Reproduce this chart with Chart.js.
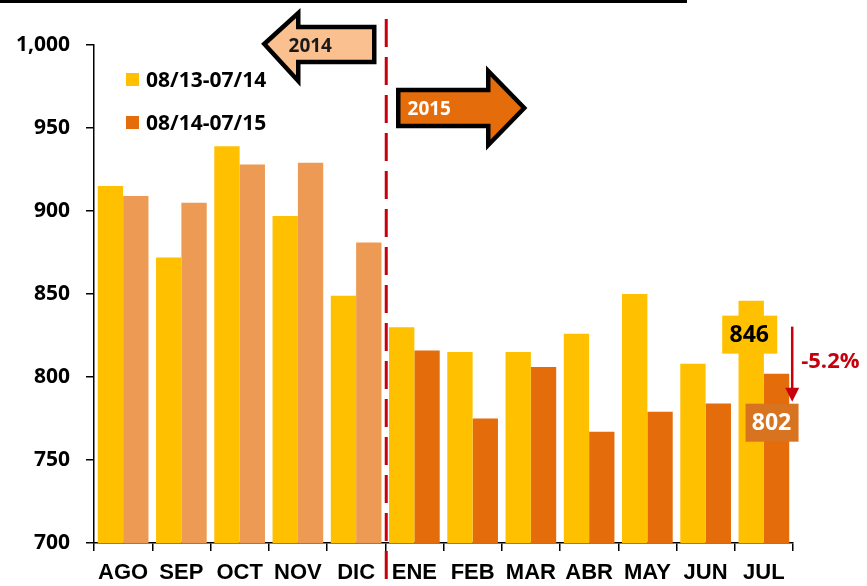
<!DOCTYPE html>
<html>
<head>
<meta charset="utf-8">
<script src="https://cdn.jsdelivr.net/npm/chart.js@4.4.1/dist/chart.umd.min.js"></script>
<style>
  html, body { margin: 0; padding: 0; background: #fff; }
  #wrap { width: 867px; height: 586px; position: relative; }
</style>
</head>
<body>
<div id="wrap"><canvas id="chart" width="867" height="586"></canvas></div>
<script>
// datos
const meses = ['AGO', 'SEP', 'OCT', 'NOV', 'DIC', 'ENE', 'FEB', 'MAR', 'ABR', 'MAY', 'JUN', 'JUL'];
const serie1314 = [915, 872, 939, 897, 849, 830, 815, 815, 826, 850, 808, 846];
const serie1415 = [909, 905, 928, 929, 881, 816, 775, 806, 767, 779, 784, 802];
const yTicks = [700, 750, 800, 850, 900, 950, 1000];
const etiquetaAntes = '846';
const etiquetaDespues = '802';
const variacion = '-5.2%';
const legendas = ['08/13-07/14', '08/14-07/15'];

const AMARILLO = '#FFC000';
const NARANJA_2014 = '#ED9A55';
const NARANJA_2015 = '#E46C0A';
const ROJO = '#C8000E';
const FUENTE = '"Open Sans", "DejaVu Sans", sans-serif';

// colores por barra: los meses de 2014 más claros
const coloresSerie2 = meses.map((m, i) => i < 5 ? NARANJA_2014 : NARANJA_2015);

function flecha(ctx, pts, relleno) {
  ctx.beginPath();
  pts.forEach((p, i) => i === 0 ? ctx.moveTo(p[0], p[1]) : ctx.lineTo(p[0], p[1]));
  ctx.closePath();
  ctx.fillStyle = relleno;
  ctx.fill();
  ctx.lineWidth = 4.5;
  ctx.strokeStyle = '#000';
  ctx.lineJoin = 'miter';
  ctx.stroke();
}

const anotaciones = {
  id: 'anotaciones',
  afterDraw(chart) {
    const ctx = chart.ctx;
    const x = chart.scales.x;
    const y = chart.scales.y;
    ctx.save();

    // línea del título recortado
    ctx.fillStyle = '#000';
    ctx.fillRect(0, 0, 687, 3);

    // separador 2014 / 2015
    const divX = (x.getPixelForValue(4) + x.getPixelForValue(5)) / 2 + 1;
    ctx.beginPath();
    ctx.setLineDash([28, 10]);
    ctx.strokeStyle = ROJO;
    ctx.lineWidth = 3;
    ctx.moveTo(divX, 19);
    ctx.lineTo(divX, chart.height);
    ctx.stroke();
    ctx.setLineDash([]);

    // flecha 2014
    flecha(ctx, [
      [divX - 12, 27], [divX - 88, 27], [divX - 88, 13], [divX - 122, 44],
      [divX - 88, 81], [divX - 88, 62], [divX - 12, 62]
    ], '#FAC090');
    ctx.fillStyle = '#1a1a1a';
    ctx.font = 'bold 19px ' + FUENTE;
    ctx.textAlign = 'center';
    ctx.textBaseline = 'middle';
    ctx.fillText('2014', divX - 76, 47);

    // flecha 2015
    flecha(ctx, [
      [divX + 12, 90], [divX + 102, 90], [divX + 102, 71], [divX + 138, 108],
      [divX + 102, 145], [divX + 102, 126], [divX + 12, 126]
    ], NARANJA_2015);
    ctx.fillStyle = '#fff';
    ctx.fillText('2015', divX + 43, 110);

    // leyenda
    const colLeyenda = [AMARILLO, NARANJA_2015];
    ctx.textAlign = 'left';
    ctx.font = 'bold 21px ' + FUENTE;
    legendas.forEach((txt, i) => {
      const cy = 80 + i * 43;
      ctx.fillStyle = colLeyenda[i];
      ctx.fillRect(126, cy - 7, 13, 13);
      ctx.fillStyle = '#000';
      ctx.fillText(txt, 146, cy + 1);
    });

    // etiquetas de julio
    const b1 = chart.getDatasetMeta(0).data[11];
    const b2 = chart.getDatasetMeta(1).data[11];
    const yA = y.getPixelForValue(serie1314[11]);
    const yB = y.getPixelForValue(serie1415[11]);

    ctx.fillStyle = AMARILLO;
    ctx.fillRect(b1.x - 29, yA + 15, 55, 38);
    ctx.fillStyle = '#000';
    ctx.font = 'bold 23px ' + FUENTE;
    ctx.textAlign = 'center';
    ctx.fillText(etiquetaAntes, b1.x - 2, yA + 35);

    ctx.fillStyle = '#D8731F';
    ctx.fillRect(b2.x - 31, yB + 30, 53, 38);
    ctx.fillStyle = '#fff';
    ctx.fillText(etiquetaDespues, b2.x - 5, yB + 50);

    // flecha de variación
    const ax = b2.x + b2.width / 2 + 3;
    ctx.strokeStyle = ROJO;
    ctx.lineWidth = 2.5;
    ctx.beginPath();
    ctx.moveTo(ax, yA + 26);
    ctx.lineTo(ax, yB + 16);
    ctx.stroke();
    ctx.beginPath();
    ctx.moveTo(ax - 7, yB + 14);
    ctx.lineTo(ax + 7, yB + 14);
    ctx.lineTo(ax, yB + 28);
    ctx.closePath();
    ctx.fillStyle = ROJO;
    ctx.fill();

    ctx.fillStyle = ROJO;
    ctx.font = 'bold 22px ' + FUENTE;
    ctx.textAlign = 'left';
    ctx.fillText(variacion, ax + 9, (yA + yB) / 2 + 25);

    ctx.restore();
  }
};

new Chart(document.getElementById('chart'), {
  type: 'bar',
  data: {
    labels: meses,
    datasets: [
      { label: legendas[0], data: serie1314, backgroundColor: AMARILLO },
      { label: legendas[1], data: serie1415, backgroundColor: coloresSerie2 }
    ]
  },
  options: {
    responsive: false,
    animation: false,
    layout: { padding: { top: 45, right: 74, bottom: 0, left: 0 } },
    plugins: {
      legend: { display: false },
      tooltip: { enabled: false }
    },
    datasets: {
      bar: { categoryPercentage: 0.87, barPercentage: 1.0 }
    },
    scales: {
      x: {
        grid: { drawOnChartArea: false, drawTicks: true, tickLength: 8, color: '#000', lineWidth: 1.5 },
        border: { color: '#000', width: 1.5 },
        ticks: {
          color: '#000',
          padding: 9,
          font: { family: '"Liberation Sans", Arial, sans-serif', weight: 'bold', size: 22 }
        },
        afterFit(s) { s.height = 43; }
      },
      y: {
        min: 700,
        max: 1000,
        afterBuildTicks(s) { s.ticks = yTicks.map(v => ({ value: v })); },
        grid: { drawOnChartArea: false, drawTicks: true, tickLength: 8, color: '#000', lineWidth: 1.5 },
        border: { color: '#000', width: 1.5 },
        ticks: {
          color: '#000',
          padding: 16,
          font: { family: FUENTE, weight: 'bold', size: 21 },
          callback: v => v.toLocaleString('en-US')
        },
        afterFit(s) { s.width = 94; }
      }
    }
  },
  plugins: [anotaciones]
});
</script>
</body>
</html>
